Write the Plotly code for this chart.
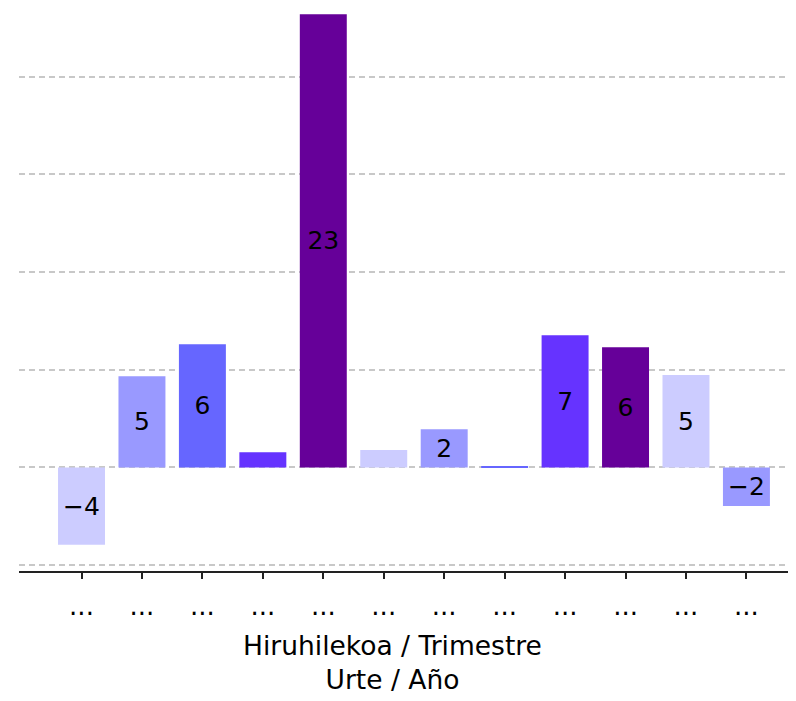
import plotly.graph_objects as go

categories = ["c1", "c2", "c3", "c4", "c5", "c6", "c7", "c8", "c9", "c10", "c11", "c12"]
tick_labels = ["..."] * 12
values = [-3.96, 4.67, 6.31, 0.78, 23.2, 0.89, 1.96, 0.06, 6.77, 6.16, 4.73, -1.97]
colors = ["#ccccff", "#9999ff", "#6666ff", "#6633ff", "#660099",
          "#ccccff", "#9999ff", "#6666ff", "#6633ff", "#660099",
          "#ccccff", "#9999ff"]
x_title = "Hiruhilekoa / Trimestre<br>Urte / Año"

FONT = "DejaVu Sans"
labels = [f"{v:.0f}".replace("-", "\u2212") for v in values]

fig = go.Figure(
    go.Bar(
        x=list(range(len(categories))),
        y=values,
        marker=dict(color=colors, line=dict(width=0)),
        text=labels,
        texttemplate="%{text}",
        textposition="inside",
        insidetextanchor="middle",
        textangle=0,
        textfont=dict(family=FONT, size=25, color="black"),
        hoverinfo="skip",
    )
)

fig.update_layout(
    width=796,
    height=701,
    margin=dict(l=11, r=8, t=0, b=138, pad=0),
    paper_bgcolor="white",
    plot_bgcolor="white",
    bargap=0.223,
    showlegend=False,
    uniformtext=dict(mode="hide", minsize=25),
    font=dict(family=FONT, color="black"),
    annotations=[
        dict(
            text=x_title,
            xref="paper", yref="paper",
            x=0.4813, y=-0.163,
            xanchor="center", yanchor="middle",
            showarrow=False,
            font=dict(family=FONT, size=26.5, color="black"),
        )
    ],
)

fig.update_xaxes(
    automargin=False,
    tickmode="array",
    tickvals=list(range(len(categories))),
    ticktext=tick_labels,
    range=[-1.034, 11.82],
    showline=True,
    linecolor="#222222",
    linewidth=1.5,
    ticks="outside",
    ticklen=6,
    tickwidth=1.5,
    tickcolor="#222222",
    ticklabelstandoff=5,
    tickfont=dict(family=FONT, size=26, color="black"),
    showgrid=False,
    zeroline=False,
)

fig.update_yaxes(
    automargin=False,
    range=[-5.3, 23.52],
    tickmode="array",
    tickvals=[-5, 0, 5, 10, 15, 20],
    showticklabels=False,
    showgrid=True,
    gridcolor="#c8c8c8",
    gridwidth=1.5,
    griddash="6px,4px",
    zeroline=False,
    showline=False,
    ticks="",
)

fig.write_html("out.html")
